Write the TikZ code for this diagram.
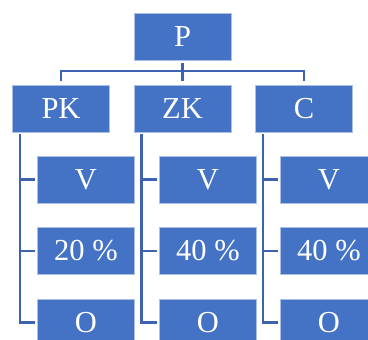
\documentclass[tikz,border=0pt]{standalone}
\usepackage{fontspec}
\setmainfont{Liberation Serif}
\definecolor{boxblue}{RGB}{68,114,196}
\definecolor{edgeblue}{RGB}{170,192,230}
\definecolor{lineblue}{RGB}{60,98,176}
\tikzset{
  box/.style={rectangle, fill=boxblue, draw=edgeblue, line width=0.8pt, text=white,
    minimum width=97pt, minimum height=47pt, inner sep=0pt,
    font=\fontsize{30.5}{32}\selectfont},
  conn/.style={draw=lineblue, line width=2.2pt}
}
\begin{document}
\begin{tikzpicture}[x=1pt,y=-1pt]
\useasboundingbox (0,0) rectangle (368,340);
\clip (0,0) rectangle (368,340);
\node[box] (P) at (182.5,37) {P};
\node[box] (PK) at (61,108.5) {PK};
\node[box] (ZK) at (182.5,108.5) {ZK};
\node[box] (C) at (304,108.5) {C};
\node[box] (V1) at (86,179.5) {V};
\node[box] (N1) at (86,251) {20 \%};
\node[box] (O1) at (86,322.5) {O};
\node[box] (V2) at (208,179.5) {V};
\node[box] (N2) at (208,251) {40 \%};
\node[box] (O2) at (208,322.5) {O};
\node[box] (V3) at (329,179.5) {V};
\node[box] (N3) at (329,251) {40 \%};
\node[box] (O3) at (329,322.5) {O};
\coordinate (bus) at (182.5,71);
\draw[conn, shorten <=2pt] (P.south) -- (bus);
\draw[conn, shorten <=4pt, shorten >=4pt] (PK.north) |- (bus) -| (C.north);
\draw[conn, shorten <=4pt] (ZK.north) -- (bus);
\foreach \top/\v/\n/\o in {PK/V1/N1/O1, ZK/V2/N2/O2, C/V3/N3/O3}{
  \draw[conn, shorten <=2pt, shorten >=2pt] ([xshift=8pt]\top.south west) |- (\o.west);
  \draw[conn, shorten >=2pt] ([xshift=8pt]\top.south west |- \v.west) -- (\v.west);
  \draw[conn, shorten >=2pt] ([xshift=8pt]\top.south west |- \n.west) -- (\n.west);
}
\end{tikzpicture}
\end{document}
